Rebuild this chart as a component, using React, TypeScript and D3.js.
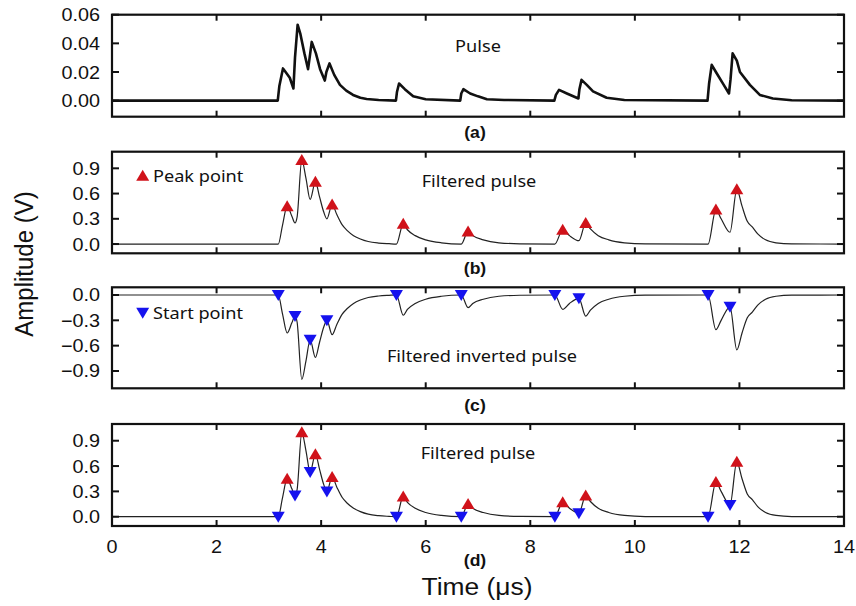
import React from "react";
import * as d3 from "d3";

// ---- Data ----
const rawTimes = [0, 3.17, 3.2, 3.27, 3.32, 3.4, 3.47, 3.5, 3.55, 3.6, 3.68, 3.75, 3.78, 3.82, 3.9, 3.98, 4.07, 4.1, 4.16, 4.25, 4.36, 4.48, 4.61, 4.75, 4.87, 5.1, 5.43, 5.45, 5.49, 5.6, 5.76, 6.0, 6.66, 6.68, 6.72, 6.85, 7.0, 7.17, 7.5, 8.46, 8.49, 8.55, 8.7, 8.92, 8.94, 8.98, 9.08, 9.2, 9.46, 9.8, 11.39, 11.42, 11.47, 11.55, 11.7, 11.8, 11.83, 11.87, 11.95, 12.01, 12.2, 12.39, 12.64, 13.0, 14];
const rawValues = [0, 0, 0.01, 0.0225, 0.02, 0.016, 0.0085, 0.03, 0.053, 0.047, 0.033, 0.022, 0.03, 0.041, 0.033, 0.022, 0.014, 0.02, 0.026, 0.018, 0.011, 0.007, 0.004, 0.002, 0.0012, 0.0005, 0, 0.006, 0.012, 0.008, 0.003, 0.001, 0, 0.005, 0.008, 0.005, 0.003, 0.001, 0.0005, 0, 0.004, 0.0075, 0.005, 0.0015, 0.008, 0.0145, 0.011, 0.0065, 0.002, 0.0005, 0, 0.012, 0.025, 0.02, 0.011, 0.005, 0.015, 0.033, 0.028, 0.02, 0.011, 0.004, 0.0015, 0.0003, 0];

const filtTimes = [0, 3.15, 3.18, 3.26, 3.35, 3.44, 3.5, 3.54, 3.63, 3.71, 3.79, 3.89, 3.97, 4.05, 4.11, 4.21, 4.3, 4.4, 4.5, 4.62, 4.75, 4.9, 5.1, 5.3, 5.44, 5.57, 5.65, 5.8, 6.0, 6.3, 6.68, 6.81, 6.9, 7.1, 7.4, 7.8, 8.47, 8.62, 8.75, 8.93, 9.06, 9.15, 9.3, 9.5, 9.8, 10.2, 11.4, 11.55, 11.65, 11.82, 11.95, 12.05, 12.15, 12.25, 12.35, 12.5, 12.7, 13.0, 14];
const filtValues = [0, 0, 0.0, 0.22, 0.45, 0.33, 0.25, 0.32, 1.0, 0.78, 0.53, 0.74, 0.56, 0.38, 0.3, 0.47, 0.35, 0.23, 0.16, 0.1, 0.06, 0.03, 0.012, 0.004, 0.0, 0.24, 0.17, 0.1, 0.05, 0.015, 0.0, 0.15, 0.1, 0.05, 0.015, 0.003, 0.0, 0.17, 0.1, 0.04, 0.25, 0.18, 0.1, 0.05, 0.015, 0.002, 0.0, 0.41, 0.3, 0.14, 0.65, 0.45, 0.27, 0.2, 0.12, 0.05, 0.015, 0.002, 0];

const peakTimes = [3.35, 3.63, 3.89, 4.21, 5.57, 6.81, 8.62, 9.06, 11.55, 11.95];
const peakValues = [0.45, 1.0, 0.74, 0.47, 0.24, 0.15, 0.17, 0.25, 0.41, 0.65];
const startTimes = [3.18, 3.5, 3.79, 4.11, 5.44, 6.68, 8.47, 8.93, 11.4, 11.82];
const startValues = [0.0, 0.25, 0.53, 0.3, 0.0, 0.0, 0.0, 0.04, 0.0, 0.14];

const xTicks = [0, 2, 4, 6, 8, 10, 12, 14];
const ticksA = [0, 0.02, 0.04, 0.06];
const ticksB = [0, 0.3, 0.6, 0.9];
const ticksC = [0, -0.3, -0.6, -0.9];

const RED = "#d0121a";
const BLUE = "#1512ee";
const ARIAL = "'Liberation Sans', Arial, sans-serif";
const SANS = "'Noto Sans', 'Open Sans', sans-serif";
const SX = 1.1; // horizontal stretch of the reference text

const x = d3.scaleLinear().domain([0, 14]).range([112, 844]);

type Panel = { top: number; bottom: number; domain: [number, number]; ticks: number[]; fmt: (v: number) => string };

const panels: Record<string, Panel> = {
  a: { top: 14.7, bottom: 116.7, domain: [-0.0112, 0.06], ticks: ticksA, fmt: d3.format(".2f") },
  b: { top: 151.7, bottom: 253.3, domain: [-0.11, 1.0975], ticks: ticksB, fmt: d3.format(".1f") },
  c: { top: 287.3, bottom: 388.3, domain: [-1.105, 0.091], ticks: ticksC, fmt: (v) => (v === 0 ? "0.0" : d3.format(".1f")(v)) },
  d: { top: 424, bottom: 526, domain: [-0.11, 1.098], ticks: ticksB, fmt: d3.format(".1f") },
};

function yScale(p: Panel) {
  return d3.scaleLinear().domain(p.domain).range([p.bottom, p.top]);
}

function STxt(props: { x: number; y: number; size: number; anchor?: string; weight?: string; family?: string; rotate?: number; children: React.ReactNode }) {
  const { x: tx, y: ty, size, anchor = "start", weight = "normal", family = ARIAL, rotate = 0, children } = props;
  return (
    <text
      transform={`translate(${tx},${ty}) scale(${SX},1)${rotate ? ` rotate(${rotate})` : ""}`}
      fontSize={size}
      fontFamily={family}
      fontWeight={weight}
      textAnchor={anchor as any}
      fill="#111"
    >
      {children}
    </text>
  );
}

function Frame({ p, showXLabels }: { p: Panel; showXLabels?: boolean }) {
  const y = yScale(p);
  const L = x.range()[0];
  const R = x.range()[1];
  const tl = 6;
  return (
    <g>
      {xTicks.map((t) => (
        <g key={"xt" + t}>
          <line x1={x(t)} x2={x(t)} y1={p.bottom} y2={p.bottom - tl} stroke="#111" strokeWidth={2} />
          <line x1={x(t)} x2={x(t)} y1={p.top} y2={p.top + tl} stroke="#111" strokeWidth={2} />
          {showXLabels && (
            <STxt x={x(t)} y={553} size={18} anchor="middle">
              {String(t)}
            </STxt>
          )}
        </g>
      ))}
      {p.ticks.map((v) => (
        <g key={"yt" + v}>
          <line x1={L} x2={L + 7} y1={y(v)} y2={y(v)} stroke="#111" strokeWidth={2} />
          <line x1={R} x2={R - 7} y1={y(v)} y2={y(v)} stroke="#111" strokeWidth={2} />
          <STxt x={100} y={y(v) + 6.5} size={18} anchor="end">
            {p.fmt(v)}
          </STxt>
        </g>
      ))}
      <rect x={L} y={p.top} width={R - L} height={p.bottom - p.top} fill="none" stroke="#111" strokeWidth={2.2} />
    </g>
  );
}

function triUp(cx: number, cy: number) {
  return `M${cx - 6.5},${cy + 5} L${cx + 6.5},${cy + 5} L${cx},${cy - 6} Z`;
}
function triDown(cx: number, cy: number) {
  return `M${cx - 6.5},${cy - 5} L${cx + 6.5},${cy - 5} L${cx},${cy + 6} Z`;
}

export default function App() {
  const pa = panels.a, pb = panels.b, pc = panels.c, pd = panels.d;
  const ya = yScale(pa), yb = yScale(pb), yc = yScale(pc), yd = yScale(pd);

  const rawLine = d3.line<number>().x((_, i) => x(rawTimes[i])).y((v) => ya(v));
  const mkFilt = (ys: d3.ScaleLinear<number, number>, sign: number) =>
    d3.line<number>().x((_, i) => x(filtTimes[i])).y((v) => ys(sign * v)).curve(d3.curveMonotoneX);

  return (
    <svg width={856} height={606} style={{ display: "block", position: "absolute", left: 0, top: 0, background: "#fff" }}>
      <rect x={0} y={0} width={856} height={606} fill="#fff" />
      {/* (a) raw pulse */}
      <path d={rawLine(rawValues) || ""} fill="none" stroke="#111" strokeWidth={2.6} strokeLinejoin="round" />
      <Frame p={pa} />
      <STxt x={478} y={52} size={16.5} family={SANS} anchor="middle">Pulse</STxt>
      <STxt x={475} y={137.5} size={16} anchor="middle" weight="bold">(a)</STxt>

      {/* (b) filtered pulse with peaks */}
      <path d={mkFilt(yb, 1)(filtValues) || ""} fill="none" stroke="#222" strokeWidth={1.2} />
      {peakTimes.map((t, i) => (
        <path key={"pb" + i} d={triUp(x(t), yb(peakValues[i]))} fill={RED} />
      ))}
      <Frame p={pb} />
      <path d={triUp(142.7, 175.7)} fill={RED} />
      <STxt x={153} y={181.5} size={16.5} family={SANS}>Peak point</STxt>
      <STxt x={479} y={186.5} size={16.5} family={SANS} anchor="middle">Filtered pulse</STxt>
      <STxt x={475} y={274} size={16} anchor="middle" weight="bold">(b)</STxt>

      {/* (c) inverted filtered pulse with start points */}
      <path d={mkFilt(yc, -1)(filtValues) || ""} fill="none" stroke="#222" strokeWidth={1.2} />
      {startTimes.map((t, i) => (
        <path key={"sc" + i} d={triDown(x(t), yc(-startValues[i]))} fill={BLUE} />
      ))}
      <Frame p={pc} />
      <path d={triDown(142.7, 312.7)} fill={BLUE} />
      <STxt x={153} y={318.5} size={16.5} family={SANS}>Start point</STxt>
      <STxt x={482} y={361.5} size={16.5} family={SANS} anchor="middle">Filtered inverted pulse</STxt>
      <STxt x={475} y={410.5} size={16} anchor="middle" weight="bold">(c)</STxt>

      {/* (d) filtered pulse with both */}
      <path d={mkFilt(yd, 1)(filtValues) || ""} fill="none" stroke="#222" strokeWidth={1.2} />
      {peakTimes.map((t, i) => (
        <path key={"pd" + i} d={triUp(x(t), yd(peakValues[i]))} fill={RED} />
      ))}
      {startTimes.map((t, i) => (
        <path key={"sd" + i} d={triDown(x(t), yd(startValues[i]))} fill={BLUE} />
      ))}
      <Frame p={pd} showXLabels />
      <STxt x={478} y={459} size={16.5} family={SANS} anchor="middle">Filtered pulse</STxt>
      <STxt x={475} y={565.5} size={16} anchor="middle" weight="bold">(d)</STxt>

      {/* axis titles */}
      <STxt x={477} y={595} size={24} anchor="middle">Time (μs)</STxt>
      <STxt x={33} y={264} size={24} anchor="middle" rotate={-90}>Amplitude (V)</STxt>
    </svg>
  );
}
